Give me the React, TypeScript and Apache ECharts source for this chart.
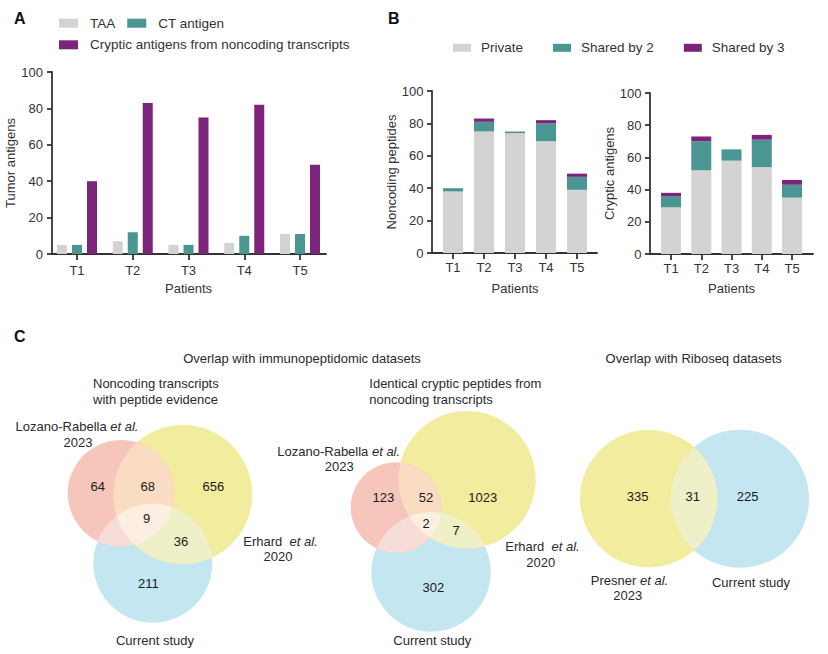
import React, { useEffect, useRef } from 'react';
import * as echarts from 'echarts';

// ---------------- DATA ----------------
const patients = ['T1', 'T2', 'T3', 'T4', 'T5'];

// Panel A – tumor antigens per patient
const taaCounts = [5, 7, 5, 6, 11];
const ctAntigenCounts = [5, 12, 5, 10, 11];
const crypticNoncodingCounts = [40, 83, 75, 82, 49];

// Panel B – noncoding peptides (stacked)
const peptidePrivate = [38, 75, 74, 69, 39];
const peptideShared2 = [2, 6, 1, 11, 8];
const peptideShared3 = [0, 2, 0, 2, 2];

// Panel B – cryptic antigens (stacked)
const antigenPrivate = [29, 52, 58, 54, 35];
const antigenShared2 = [7, 18, 7, 17, 8];
const antigenShared3 = [2, 3, 0, 3, 3];

const yAxisMax = 100;
const yAxisStep = 20;

// Panel C – Venn region counts
// order: Lozano only, Lozano∩Erhard, Erhard only, all three, Erhard∩Current, Current only
const vennTranscriptsCounts = [64, 68, 656, 9, 36, 211];
const vennPeptidesCounts = [123, 52, 1023, 2, 7, 302];
// order: Presner only, Presner∩Current, Current only
const vennRiboseqCounts = [335, 31, 225];

const seriesNamesA = ['TAA', 'CT antigen', 'Cryptic antigens from noncoding transcripts'];
const seriesNamesB = ['Private', 'Shared by 2', 'Shared by 3'];

// ---------------- STYLE / LAYOUT ----------------
const FONT = '"Liberation Sans", Arial, Helvetica, sans-serif';
const GRAY = '#d3d3d3';
const TEAL = '#4b9592';
const PURPLE = '#7c2479';
const AXIS = { color: '#333', width: 1.8 };
const TXT = '#2a2a2a';

const FILL_L = '#f6c6bc';
const FILL_E = '#f2ec9e';
const FILL_C = '#c3e6f1';
const FILL_LE = '#f9dcc2';
const FILL_LC = '#f6ddd8';
const FILL_EC = '#eff0c8';
const FILL_LEC = '#fcefe1';

const vennLayouts = [
  {
    box: { left: 50, top: 410, width: 220, height: 230 },
    circles: [
      { x: 71, y: 83.3, r: 53.3, fill: FILL_L },
      { x: 132.8, y: 84.5, r: 69.5, fill: FILL_E },
      { x: 102.8, y: 153.2, r: 59.5, fill: FILL_C },
    ],
    overlaps: [
      { sets: [0, 1], fill: FILL_LE },
      { sets: [0, 2], fill: FILL_LC },
      { sets: [1, 2], fill: FILL_EC },
      { sets: [0, 1, 2], fill: FILL_LEC },
    ],
    labelPos: [[47.7, 76.7], [97.7, 76.7], [163.3, 76.7], [96.7, 108.3], [131, 131], [98.3, 173.3]],
    counts: vennTranscriptsCounts,
  },
  {
    box: { left: 330, top: 400, width: 220, height: 240 },
    circles: [
      { x: 66, y: 107.5, r: 45.3, fill: FILL_L },
      { x: 137, y: 79.7, r: 68.7, fill: FILL_E },
      { x: 101, y: 172, r: 59.7, fill: FILL_C },
    ],
    overlaps: [
      { sets: [0, 1], fill: FILL_LE },
      { sets: [0, 2], fill: FILL_LC },
      { sets: [1, 2], fill: FILL_EC },
      { sets: [0, 1, 2], fill: FILL_LEC },
    ],
    labelPos: [[53.3, 97.3], [96, 97.3], [152.7, 97.3], [96, 123.3], [126, 130.7], [103.3, 187.3]],
    counts: vennPeptidesCounts,
  },
  {
    box: { left: 570, top: 420, width: 250, height: 160 },
    circles: [
      { x: 78.7, y: 78.7, r: 68.7, fill: FILL_E },
      { x: 170, y: 78.7, r: 69, fill: FILL_C },
    ],
    overlaps: [{ sets: [0, 1], fill: FILL_EC }],
    labelPos: [[67.7, 76.7], [122.7, 76.7], [177.7, 76.7]],
    counts: vennRiboseqCounts,
  },
];

// ---------------- GEOMETRY HELPERS ----------------
type C = { x: number; y: number; r: number };

function circleIntersections(A: C, B: C) {
  const dx = B.x - A.x, dy = B.y - A.y;
  const d = Math.hypot(dx, dy);
  const a = (d * d + A.r * A.r - B.r * B.r) / (2 * d);
  const h = Math.sqrt(Math.max(A.r * A.r - a * a, 0));
  const ux = dx / d, uy = dy / d;
  const nx = -uy, ny = ux;
  const mx = A.x + a * ux, my = A.y + a * uy;
  return { a, d, plus: [mx + h * nx, my + h * ny], minus: [mx - h * nx, my - h * ny] };
}

function lensPath(A: C, B: C) {
  const { a, d, plus, minus } = circleIntersections(A, B);
  const largeA = a < 0 ? 1 : 0;
  const largeB = d - a < 0 ? 1 : 0;
  return `M${minus[0]},${minus[1]} A${A.r},${A.r} 0 ${largeA} 1 ${plus[0]},${plus[1]} A${B.r},${B.r} 0 ${largeB} 1 ${minus[0]},${minus[1]} Z`;
}

function pickInside(P: C, Q: C, R: C) {
  const { plus, minus } = circleIntersections(P, Q);
  const dp = Math.hypot(plus[0] - R.x, plus[1] - R.y);
  const dm = Math.hypot(minus[0] - R.x, minus[1] - R.y);
  return dp < dm ? plus : minus;
}

function triplePath(A: C, B: C, Cc: C) {
  const vAB = pickInside(A, B, Cc);
  const vBC = pickInside(B, Cc, A);
  const vCA = pickInside(Cc, A, B);
  const cross = (vCA[0] - vAB[0]) * (vBC[1] - vAB[1]) - (vCA[1] - vAB[1]) * (vBC[0] - vAB[0]);
  const arc = (c: C, p: number[]) => `A${c.r},${c.r} 0 0 1 ${p[0]},${p[1]}`;
  if (cross > 0) {
    return `M${vAB[0]},${vAB[1]} ${arc(A, vCA)} ${arc(Cc, vBC)} ${arc(B, vAB)} Z`;
  }
  return `M${vAB[0]},${vAB[1]} ${arc(B, vBC)} ${arc(Cc, vCA)} ${arc(A, vAB)} Z`;
}

// ---------------- OPTION BUILDERS ----------------
function frameAxes(gridIndex: number, yName: string, nameGap: number, labelMargin: number) {
  const x = {
    type: 'value', gridIndex, min: 0, max: 1,
    axisLine: { show: true, onZero: false, lineStyle: AXIS },
    axisTick: { show: false }, axisLabel: { show: false }, splitLine: { show: false },
  };
  const y = {
    type: 'value', gridIndex, min: 0, max: yAxisMax, interval: yAxisStep,
    axisLine: { show: true, onZero: false, lineStyle: AXIS },
    axisTick: { show: true, length: 5, lineStyle: AXIS },
    axisLabel: { fontSize: 13, color: '#333', margin: labelMargin, fontFamily: FONT },
    splitLine: { show: false },
    name: yName, nameLocation: 'middle', nameGap,
    nameTextStyle: { fontSize: 13, color: '#333', fontFamily: FONT },
  };
  return { x, y };
}

function barAxes(gridIndex: number, labelMargin: number, nameGap: number) {
  const x = {
    type: 'category', gridIndex, data: patients,
    axisLine: { show: false },
    axisTick: { show: true, alignWithLabel: true, length: 6, lineStyle: AXIS },
    axisLabel: { fontSize: 13, color: '#333', margin: labelMargin, fontFamily: FONT },
    splitLine: { show: false },
    name: 'Patients', nameLocation: 'middle', nameGap,
    nameTextStyle: { fontSize: 13, color: '#333', fontFamily: FONT },
  };
  const y = { type: 'value', gridIndex, min: 0, max: yAxisMax, show: false };
  return { x, y };
}

function plainText(x: number, y: number, text: string, align = 'center', extra: any = {}) {
  return {
    type: 'text', x, y, silent: true,
    style: {
      text, fill: TXT, font: `13px ${FONT}`,
      align, verticalAlign: 'middle', textAlign: align, textVerticalAlign: 'middle',
      ...extra,
    },
  };
}

function italicText(x: number, y: number, main: string, ital: string) {
  return {
    type: 'text', x, y, silent: true,
    style: {
      text: `{n|${main}}{i|${ital}}`,
      rich: {
        n: { fontSize: 13, fontFamily: FONT, fill: TXT },
        i: { fontSize: 13, fontFamily: FONT, fontStyle: 'italic', fill: TXT },
      },
      fill: TXT, font: `13px ${FONT}`,
      align: 'center', verticalAlign: 'middle', textAlign: 'center', textVerticalAlign: 'middle',
    },
  };
}

function buildOption() {
  const grids: any[] = [
    { left: 52, top: 72, width: 274, height: 182 },        // 0 A frame
    { left: 49.1, top: 72, width: 278.8, height: 182 },    // 1 A bars
    { left: 432, top: 91, width: 165, height: 162 },       // 2 B1 frame
    { left: 437.5, top: 91, width: 155, height: 162 },     // 3 B1 bars
    { left: 650, top: 93, width: 163, height: 161 },       // 4 B2 frame
    { left: 655.9, top: 93, width: 151.25, height: 161 },  // 5 B2 bars
  ];
  const xAxes: any[] = [];
  const yAxes: any[] = [];

  const fA = frameAxes(0, 'Tumor antigens', 35, 9);
  const bA = barAxes(1, 10, 28);
  const fB1 = frameAxes(2, 'Noncoding peptides', 34, 8.5);
  const bB1 = barAxes(3, 8, 29);
  const fB2 = frameAxes(4, 'Cryptic antigens', 33.5, 8.5);
  const bB2 = barAxes(5, 8, 28);
  [fA, bA, fB1, bB1, fB2, bB2].forEach((ax) => { xAxes.push(ax.x); yAxes.push(ax.y); });

  const series: any[] = [];
  const barBase = { type: 'bar', xAxisIndex: 1, yAxisIndex: 1, barWidth: 10, barGap: '50%' };
  series.push({ ...barBase, name: seriesNamesA[0], data: taaCounts, itemStyle: { color: GRAY } });
  series.push({ ...barBase, name: seriesNamesA[1], data: ctAntigenCounts, itemStyle: { color: TEAL } });
  series.push({ ...barBase, name: seriesNamesA[2], data: crypticNoncodingCounts, itemStyle: { color: PURPLE } });

  const stackColors = [GRAY, TEAL, PURPLE];
  const pepSets = [peptidePrivate, peptideShared2, peptideShared3];
  const antSets = [antigenPrivate, antigenShared2, antigenShared3];
  pepSets.forEach((d, i) => series.push({
    type: 'bar', name: seriesNamesB[i], xAxisIndex: 3, yAxisIndex: 3, stack: 'peptides',
    barWidth: 20, data: d, itemStyle: { color: stackColors[i] },
  }));
  antSets.forEach((d, i) => series.push({
    type: 'bar', name: seriesNamesB[i], xAxisIndex: 5, yAxisIndex: 5, stack: 'antigens',
    barWidth: 20, data: d, itemStyle: { color: stackColors[i] },
  }));

  // Venn diagrams
  vennLayouts.forEach((v) => {
    const gi = grids.length;
    grids.push({ ...v.box });
    xAxes.push({ type: 'value', gridIndex: gi, min: 0, max: v.box.width, show: false });
    yAxes.push({ type: 'value', gridIndex: gi, min: 0, max: v.box.height, inverse: true, show: false });

    const toPx = (api: any, c: any): C => {
      const p = api.coord([c.x, c.y]);
      return { x: p[0], y: p[1], r: api.size([c.r, 0])[0] };
    };

    const order = v.circles.map((_, i) => i).reverse();
    series.push({
      type: 'custom', xAxisIndex: gi, yAxisIndex: gi, silent: true, clip: false,
      data: order.map((i) => [v.circles[i].x, v.circles[i].y, v.circles[i].r, i]),
      renderItem: (params: any, api: any) => {
        const p = api.coord([api.value(0), api.value(1)]);
        const r = api.size([api.value(2), 0])[0];
        const i = api.value(3);
        return { type: 'circle', shape: { cx: p[0], cy: p[1], r }, style: { fill: v.circles[i].fill } };
      },
    });
    series.push({
      type: 'custom', xAxisIndex: gi, yAxisIndex: gi, silent: true, clip: false,
      data: v.overlaps.map((_, k) => [0, 0, k]),
      renderItem: (params: any, api: any) => {
        const o = v.overlaps[params.dataIndex];
        const cs = o.sets.map((i) => toPx(api, v.circles[i]));
        const d = cs.length === 2 ? lensPath(cs[0], cs[1]) : triplePath(cs[0], cs[1], cs[2]);
        return { type: 'path', shape: { pathData: d }, style: { fill: o.fill } };
      },
    });
    series.push({
      type: 'custom', xAxisIndex: gi, yAxisIndex: gi, silent: true, clip: false,
      data: v.counts.map((c, i) => [v.labelPos[i][0], v.labelPos[i][1], c]),
      renderItem: (params: any, api: any) => {
        const p = api.coord([api.value(0), api.value(1)]);
        return {
          type: 'text', x: p[0], y: p[1],
          style: {
            text: String(api.value(2)), fill: '#1a1a1a', font: `13px ${FONT}`,
            align: 'center', verticalAlign: 'middle', textAlign: 'center', textVerticalAlign: 'middle',
          },
        };
      },
    });
  });

  const legendText = (padLeft: number, padTop: number) => ({
    fontSize: 13.5, color: '#333', fontFamily: FONT, padding: [padTop, 0, 0, padLeft],
  });

  const graphics: any[] = [
    plainText(14, 18, 'A', 'left', { font: `bold 16px ${FONT}`, fill: '#111' }),
    plainText(388, 18, 'B', 'left', { font: `bold 16px ${FONT}`, fill: '#111' }),
    plainText(14, 336, 'C', 'left', { font: `bold 16px ${FONT}`, fill: '#111' }),
    plainText(302, 358, 'Overlap with immunopeptidomic datasets'),
    plainText(693.7, 358.3, 'Overlap with Riboseq datasets'),
    plainText(93, 383.5, 'Noncoding transcripts', 'left'),
    plainText(93, 399, 'with peptide evidence', 'left'),
    plainText(369.3, 383.5, 'Identical cryptic peptides from', 'left'),
    plainText(369.3, 399, 'noncoding transcripts', 'left'),
    italicText(77, 426.7, 'Lozano-Rabella ', 'et al.'),
    plainText(78, 442.7, '2023'),
    italicText(280.5, 541, 'Erhard  ', 'et al.'),
    plainText(278, 556.7, '2020'),
    plainText(155, 640.7, 'Current study'),
    italicText(338.7, 451.3, 'Lozano-Rabella ', 'et al.'),
    plainText(339.3, 466.7, '2023'),
    italicText(542.5, 546.7, 'Erhard  ', 'et al.'),
    plainText(540.7, 562.3, '2020'),
    plainText(432.3, 640.7, 'Current study'),
    italicText(629.5, 580.7, 'Presner ', 'et al.'),
    plainText(627.7, 595.7, '2023'),
    plainText(751, 582.7, 'Current study'),
  ];

  return {
    animation: false,
    backgroundColor: '#ffffff',
    textStyle: { fontFamily: FONT },
    grid: grids,
    xAxis: xAxes,
    yAxis: yAxes,
    legend: [
      {
        data: [seriesNamesA[0], seriesNamesA[1]], left: 59, top: 16.2, padding: 0,
        icon: 'rect', itemWidth: 19, itemHeight: 9, itemGap: 12,
        textStyle: legendText(7, 3), selectedMode: false,
      },
      {
        data: [seriesNamesA[2]], left: 59, top: 37.8, padding: 0,
        icon: 'rect', itemWidth: 19, itemHeight: 9, itemGap: 12,
        textStyle: legendText(7, 3), selectedMode: false,
      },
      {
        data: seriesNamesB, left: 453, top: 40.8, padding: 0,
        icon: 'rect', itemWidth: 18, itemHeight: 8, itemGap: 30,
        textStyle: legendText(5, 4), selectedMode: false,
      },
    ],
    series,
    graphic: { elements: graphics },
  };
}

export default function App() {
  const ref = useRef<HTMLDivElement>(null);
  useEffect(() => {
    if (!ref.current) return;
    const chart = echarts.init(ref.current, undefined, { renderer: 'svg' });
    chart.setOption(buildOption() as any);
    return () => chart.dispose();
  }, []);
  return (
    <div
      ref={ref}
      style={{ position: 'fixed', left: 0, top: 0, width: 828, height: 654, background: '#fff' }}
    />
  );
}
